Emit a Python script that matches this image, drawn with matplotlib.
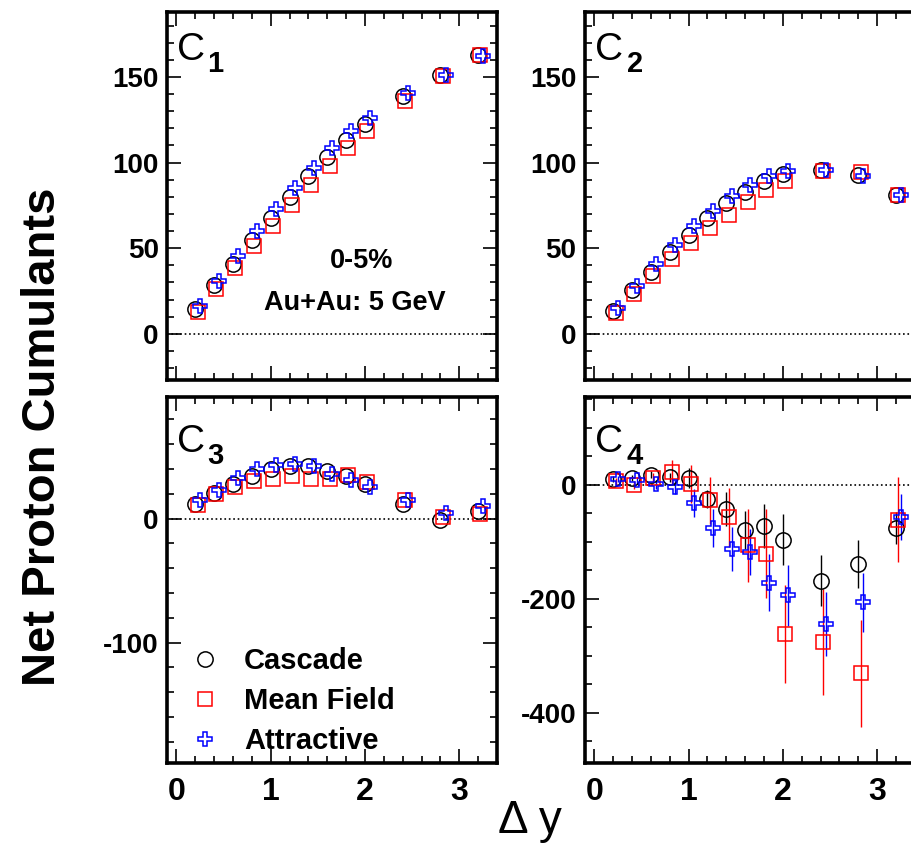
import matplotlib.pyplot as plt
from matplotlib.ticker import MultipleLocator

plt.rcParams['font.family'] = ['Liberation Sans', 'DejaVu Sans']
plt.rcParams['axes.unicode_minus'] = False

# delta y acceptance windows
dy = [0.2, 0.4, 0.6, 0.8, 1.0, 1.2, 1.4, 1.6, 1.8, 2.0, 2.4, 2.8, 3.2]

models = ['Cascade', 'Mean Field', 'Attractive']

# C1
c1_cascade = [14.2, 28.2, 41.0, 55.0, 67.7, 80.0, 92.0, 103.3, 113.0, 122.8, 138.7, 151.4, 163.0]
c1_mean = [12.8, 25.9, 38.5, 51.2, 63.2, 75.1, 86.8, 97.9, 108.6, 118.5, 135.8, 150.4, 163.0]
c1_attr = [16.1, 30.7, 45.3, 59.9, 72.6, 85.2, 96.9, 108.6, 118.3, 126.0, 140.7, 151.4, 162.0]

# C2
c2_cascade = [13.2, 25.5, 36.0, 47.9, 57.8, 67.5, 76.5, 82.9, 89.1, 93.4, 95.9, 93.0, 81.1]
c2_mean = [12.3, 23.5, 34.0, 43.8, 53.1, 61.7, 69.6, 76.8, 83.7, 89.1, 94.9, 94.4, 81.3]
c2_attr = [15.2, 27.8, 40.5, 52.1, 62.8, 71.6, 80.4, 87.2, 92.0, 94.9, 95.9, 92.4, 81.3]

# C3
c3_cascade = [12.1, 20.7, 27.7, 34.7, 39.8, 42.2, 42.2, 38.2, 34.1, 27.7, 11.6, -1.3, 6.2]
c3_mean = [10.8, 19.6, 25.5, 30.4, 32.3, 34.1, 32.3, 31.7, 34.9, 29.6, 14.8, 1.3, 3.5]
c3_attr = [14.8, 23.4, 33.0, 40.3, 43.0, 44.4, 42.2, 36.3, 30.9, 25.5, 14.8, 4.6, 9.9]

# C4 with statistical errors
c4_cascade = [10, 12, 17.5, 13.4, 11.7, -25, -42, -79, -72, -96, -168, -139, -76]
c4_cascade_err = [5, 5, 6, 8, 17, 16, 30, 33, 38, 44, 45, 42, 28]
c4_mean = [6, 0, 11.7, 21.6, 1.2, -27.4, -57, -106, -121, -262, -276, -331, -61]
c4_mean_err = [6, 7, 9, 22, 33, 41, 52, 64, 78, 86, 93, 94, 74]
c4_attr = [10, 7.6, 1.2, -4, -32, -76, -113, -118, -172, -194, -244, -206, -57]
c4_attr_err = [5, 6, 8, 12, 25, 33, 39, 41, 50, 53, 56, 52, 40]

styles = {
    'Cascade': dict(color='black', marker='o', ms=11, shift=0.0),
    'Mean Field': dict(color='red', marker='s', ms=10.5, shift=0.025),
    'Attractive': dict(color='blue', marker='P', ms=10.5, shift=0.055),
}

left_w = 0.3618
right_w = 0.3772
panels = [
    ('1', [c1_cascade, c1_mean, c1_attr], None, (-27, 188), 50, 10, 3.4, [0.1831, 0.5498, left_w, 0.4360]),
    ('2', [c2_cascade, c2_mean, c2_attr], None, (-27, 188), 50, 10, 3.55, [0.6414, 0.5498, right_w, 0.4360]),
    ('3', [c3_cascade, c3_mean, c3_attr], None, (-197, 98), 100, 20, 3.4, [0.1831, 0.0960, left_w, 0.4336]),
    ('4', [c4_cascade, c4_mean, c4_attr], [c4_cascade_err, c4_mean_err, c4_attr_err],
     (-488, 154), 200, 50, 3.55, [0.6414, 0.0960, right_w, 0.4336]),
]

fig = plt.figure(figsize=(9.12, 8.44), dpi=100)

axes = []
for idx, (order, series, errs, ylim, major, minor, xmax, rect) in enumerate(panels):
    ax = fig.add_axes(rect)
    axes.append(ax)
    ax.axhline(0, color='black', ls=':', lw=1.2, zorder=1)
    for k, name in enumerate(models):
        st = styles[name]
        xs = [x + st['shift'] for x in dy]
        yerr = errs[k] if errs is not None else None
        ax.errorbar(xs, series[k], yerr=yerr, fmt=st['marker'], ms=st['ms'],
                    mfc='none', mec=st['color'], mew=1.1, ecolor=st['color'],
                    elinewidth=1.0, capsize=0, label=name, zorder=3)
    ax.set_xlim(-0.1, xmax)
    ax.set_ylim(*ylim)
    ax.xaxis.set_major_locator(MultipleLocator(1))
    ax.xaxis.set_minor_locator(MultipleLocator(0.2))
    ax.yaxis.set_major_locator(MultipleLocator(major))
    ax.yaxis.set_minor_locator(MultipleLocator(minor))
    ax.tick_params(which='both', direction='in', top=True, right=True, width=1.2)
    ax.tick_params(which='major', length=10)
    ax.tick_params(which='minor', length=5)
    ax.tick_params(axis='y', labelsize=20, pad=6)
    ax.tick_params(axis='x', labelsize=23, pad=10)
    for lab in ax.get_yticklabels():
        lab.set_fontweight('bold')
    for lab in ax.get_xticklabels():
        lab.set_fontweight('bold')
    if idx < 2:
        ax.tick_params(axis='x', labelbottom=False)
    for sp in ax.spines.values():
        sp.set_linewidth(2.6)
    top_off = 0.87 if idx < 2 else 0.85
    ax.text(0.03, top_off, 'C', transform=ax.transAxes, fontsize=28, ha='left', va='baseline')
    ax.text(0.122, top_off - 0.033, order, transform=ax.transAxes, fontsize=21,
            fontweight='bold', ha='left', va='baseline')

axes[0].text(0.59, 0.303, '0-5%', transform=axes[0].transAxes, fontsize=19.5,
             fontweight='bold', ha='center', va='baseline')
axes[0].text(0.57, 0.19, 'Au+Au: 5 GeV', transform=axes[0].transAxes, fontsize=19.5,
             fontweight='bold', ha='center', va='baseline')

leg = axes[2].legend(loc='lower left', bbox_to_anchor=(0.01, -0.035), frameon=False,
                     handlelength=1.0, handletextpad=0.83, labelspacing=0.42,
                     prop=dict(size=21, weight='bold'), borderaxespad=0.3)

fig.text(0.047, 0.482, 'Net Proton Cumulants', rotation=90, ha='center', va='center',
         fontsize=34, fontweight='bold')
fig.text(0.581, 0.013, '\u0394 y', ha='center', va='baseline', fontsize=33)

fig.savefig('out.png', dpi=100)
